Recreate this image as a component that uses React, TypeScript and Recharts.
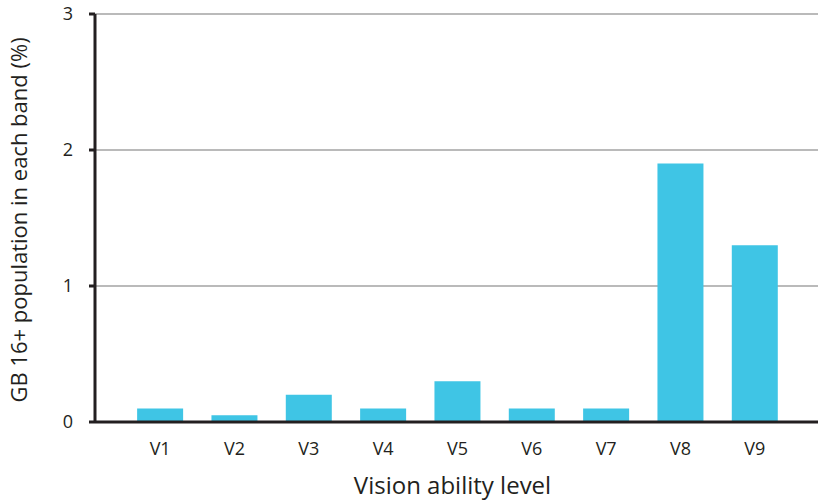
import React from "react";
import { BarChart, Bar, XAxis, YAxis, CartesianGrid, Label } from "recharts";

const levels = ["V1", "V2", "V3", "V4", "V5", "V6", "V7", "V8", "V9"];
const populationPct = [0.1, 0.05, 0.2, 0.1, 0.3, 0.1, 0.1, 1.9, 1.3];
const yTicks = [0, 1, 2, 3];

const data = levels.map((level, i) => ({ level, value: populationPct[i] }));

const FONT = "'Open Sans', sans-serif";
const INK = "#231f20";

export default function App() {
  return (
    <div style={{ position: "absolute", left: 0, top: 0, background: "#fff" }}>
      <BarChart
        width={818}
        height={500}
        data={data}
        margin={{ top: 14, right: 0, bottom: 0, left: 0 }}
        barCategoryGap="19%"
      >
        <CartesianGrid vertical={false} stroke="#a3a3a3" strokeWidth={1.5} />
        <XAxis
          dataKey="level"
          height={78}
          padding={{ left: 28, right: 26 }}
          tickLine={false}
          tickSize={0}
          tickMargin={20}
          axisLine={{ stroke: INK, strokeWidth: 3 }}
          tick={{ fill: INK, fontSize: 18, fontFamily: FONT }}
        >
          <Label
            content={({ viewBox }: any) => (
              <text
                x={viewBox.x + viewBox.width / 2 - 4}
                y={viewBox.y + 72}
                textAnchor="middle"
                fill={INK}
                fontSize={24}
                fontFamily={FONT}
              >
                Vision ability level
              </text>
            )}
          />
        </XAxis>
        <YAxis
          width={95}
          domain={[0, 3]}
          ticks={yTicks}
          interval={0}
          tickSize={6}
          tickMargin={16}
          axisLine={{ stroke: INK, strokeWidth: 3 }}
          tickLine={{ stroke: INK, strokeWidth: 3 }}
          tick={{ fill: INK, fontSize: 18, fontFamily: FONT }}
        >
          <Label
            content={() => (
              <text
                x={27}
                y={220}
                transform="rotate(-90, 27, 220)"
                textAnchor="middle"
                fill={INK}
                fontSize={22}
                fontFamily={FONT}
              >
                GB 16+ population in each band (%)
              </text>
            )}
          />
        </YAxis>
        <Bar dataKey="value" fill="#3fc5e5" isAnimationActive={false} />
      </BarChart>
    </div>
  );
}
